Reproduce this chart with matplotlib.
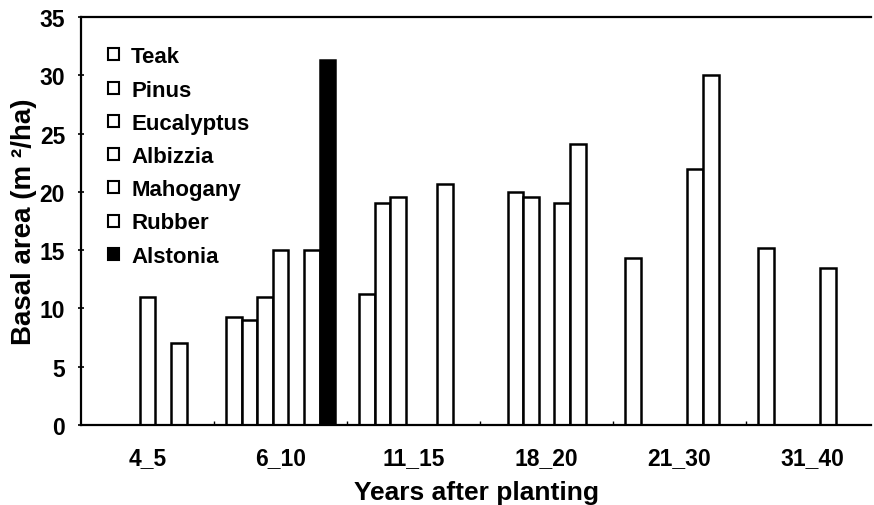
import numpy as np
import matplotlib
matplotlib.use("Agg")
import matplotlib.pyplot as plt

#%% Data (nan = no bar)
categories = ['4_5', '6_10', '11_15', '18_20', '21_30', '31_40']
species = ['Teak', 'Pinus', 'Eucalyptus', 'Albizzia', 'Mahogany', 'Rubber', 'Alstonia']
nan = np.nan
teak = [nan, 9.25, 11.25, nan, 14.35, 15.2]
pinus = [nan, 9.05, 19.05, 20.0, nan, nan]
eucalyptus = [nan, 11.0, 19.6, 19.6, nan, nan]
albizzia = [11.0, 15.0, nan, nan, nan, nan]
mahogany = [nan, nan, nan, 19.05, 22.0, 13.5]
rubber = [7.0, 15.0, 20.7, 24.1, 30.0, nan]
alstonia = [nan, 31.3, nan, nan, nan, nan]
series = [teak, pinus, eucalyptus, albizzia, mahogany, rubber, alstonia]
face_colors = ['white'] * 6 + ['black']

#%% Plot
plt.rcParams['font.family'] = ['Liberation Sans', 'DejaVu Sans']
plt.rcParams['font.weight'] = 'bold'

fig = plt.figure(figsize=(8.74, 5.06), dpi=100)
ax = fig.add_axes([0.0927, 0.1581, 0.904, 0.8063])

x = np.arange(len(categories))
width = 0.1173
n = len(species)
for k, (name, vals) in enumerate(zip(species, series)):
    vals = np.array(vals, dtype=float)
    mask = ~np.isnan(vals)
    offset = (k - (n - 1) / 2) * width
    ax.bar(x[mask] + offset, vals[mask], width=width, color=face_colors[k],
           edgecolor='black', linewidth=1.8, label=name)

ax.set_xlim(-0.5, 5.44)
ax.set_ylim(0, 35)
ax.set_yticks(np.arange(0, 36, 5))
ax.set_xticks(x)
ax.set_xticklabels(categories)
ax.set_xticks(x[:-1] + 0.5, minor=True)

ax.tick_params(axis='x', which='major', length=0, pad=15, labelsize=16.5)
ax.tick_params(axis='x', which='minor', direction='in', length=3, width=1)
ax.tick_params(axis='y', direction='inout', length=5, width=1.2, pad=9, labelsize=16.5)

for side in ['left', 'bottom', 'top']:
    ax.spines[side].set_linewidth(1.6)
ax.spines['right'].set_visible(False)

ax.set_xlabel('Years after planting', fontsize=19, fontweight='bold', labelpad=8)
ax.set_ylabel('Basal area (m \u00b2/ha)', fontsize=20, fontweight='bold', labelpad=2)

leg = ax.legend(loc='upper left', bbox_to_anchor=(0.034, 0.928), frameon=False,
                fontsize=16, borderpad=0, borderaxespad=0, labelspacing=0.55,
                handlelength=0.5, handleheight=0.45, handletextpad=0.55)
for h in leg.legend_handles:
    h.set_linewidth(1.5)

fig.savefig('out.png', dpi=100)
